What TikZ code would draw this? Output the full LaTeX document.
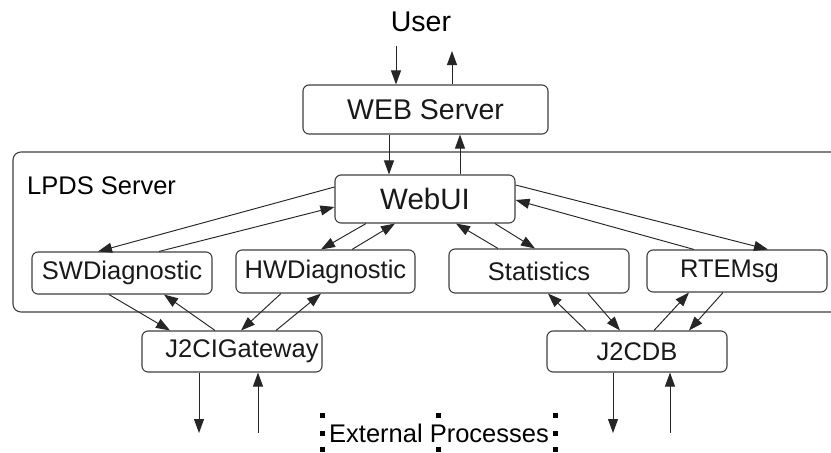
\documentclass[tikz,border=0pt]{standalone}
\usepackage{fontspec}
\setmainfont{Liberation Sans}
\usetikzlibrary{arrows.meta}
\begin{document}
\begin{tikzpicture}[x=1pt,y=-1pt,
  box/.style={draw=black!75,line width=1.1pt,rounded corners=6pt,inner sep=0pt,font=\fontsize{25.5}{30}\selectfont,text=black!90},
  conn/.style={draw=black!85,line width=0.95pt,-{Triangle[length=14pt,width=10pt]}},
  handle/.style={fill=black,draw=none}]
\useasboundingbox[fill=white] (0,0) rectangle (831,453);
% LPDS server frame
\draw[draw=black!75,line width=1.1pt,rounded corners=8pt] (845,312) -- (13,312) -- (13,152) -- (845,152);
\node[anchor=west,inner sep=0pt,font=\fontsize{25.5}{30}\selectfont] (lpds) at (27,186) {LPDS Server};
% nodes
\node[font=\fontsize{28.5}{32}\selectfont,inner sep=0pt] (user) at (421,22) {User};
\node[box,minimum width=245pt,minimum height=49pt,font=\fontsize{28.5}{32}\selectfont] (web) at (425.5,109.5) {WEB Server};
\node[box,minimum width=180pt,minimum height=48pt,font=\fontsize{29.5}{33}\selectfont] (webui) at (425,199) {WebUI};
\node[box,minimum width=180pt,minimum height=42pt] (sw) at (122,273) {SWDiagnostic};
\node[box,minimum width=179pt,minimum height=43pt] (hw) at (325.5,271.5) {HWDiagnostic};
\node[box,minimum width=180pt,minimum height=44pt] (stat) at (539,271) {Statistics};
\node[box,minimum width=180pt,minimum height=42pt] (rte) at (737,271) {RTEMsg\hspace*{15pt}};
\node[box,minimum width=180pt,minimum height=41pt] (j2ci) at (232,351.5) {\hspace*{20pt}J2CIGateway};
\node[box,minimum width=180pt,minimum height=41pt] (j2cdb) at (637,351.5) {J2CDB};
\node[inner sep=0pt,font=\fontsize{25.5}{30}\selectfont] (ext) at (439,433) {External Processes};
% free ends
\coordinate (u1) at (396,46);
\coordinate (u2) at (452,51);
\coordinate (e1) at (199,433);
\coordinate (e2) at (258,433);
\coordinate (e3) at (613,433);
\coordinate (e4) at (670,433);
% connectors
\draw[conn] (u1) -- ([xshift=-29.5pt]web.north);
\draw[conn] ([xshift=26.5pt]web.north) -- (u2);
\draw[conn] ([xshift=-36.5pt]web.south) -- ([xshift=-36pt]webui.north);
\draw[conn] ([xshift=35pt]webui.north) -- ([xshift=34.5pt]web.south);
\draw[conn] ([yshift=12pt]webui.west) -- ([xshift=-24pt]sw.north);
\draw[conn] ([xshift=37pt]sw.north) -- ([yshift=-8pt]webui.west);
\draw[conn] ([xshift=-59pt]webui.south) -- ([xshift=-4.5pt]hw.north);
\draw[conn] ([xshift=26.5pt]hw.north) -- ([xshift=-30pt]webui.south);
\draw[conn] ([xshift=-41pt]stat.north) -- ([xshift=31pt]webui.south);
\draw[conn] ([xshift=70pt]webui.south) -- ([xshift=-4pt]stat.north);
\draw[conn] ([yshift=14pt]webui.east) -- ([xshift=31pt]rte.north);
\draw[conn] ([xshift=-43pt]rte.north) -- ([yshift=-1pt]webui.east);
\draw[conn] ([xshift=-13pt]sw.south) -- ([xshift=-62pt]j2ci.north);
\draw[conn] ([xshift=-17pt]j2ci.north) -- ([xshift=42pt]sw.south);
\draw[conn] ([xshift=-44.5pt]hw.south) -- ([xshift=9pt]j2ci.north);
\draw[conn] ([xshift=44pt]j2ci.north) -- ([xshift=-4.5pt]hw.south);
\draw[conn] ([xshift=-51pt]j2cdb.north) -- ([xshift=9pt]stat.south);
\draw[conn] ([xshift=49pt]stat.south) -- ([xshift=-17pt]j2cdb.north);
\draw[conn] ([xshift=17pt]j2cdb.north) -- ([xshift=-48pt]rte.south);
\draw[conn] ([xshift=-14pt]rte.south) -- ([xshift=52pt]j2cdb.north);
\draw[conn] ([xshift=-33pt]j2ci.south) -- (e1);
\draw[conn] (e2) -- ([xshift=26pt]j2ci.south);
\draw[conn] ([xshift=-24pt]j2cdb.south) -- (e3);
\draw[conn] (e4) -- ([xshift=33pt]j2cdb.south);
% selection handles around the text
\foreach \hx/\hy in {322/415,322/433,322/449,438/415,438/449,555/415,555/433,555/449}
  \fill[handle] (\hx-2.5,\hy-2.5) rectangle (\hx+2.5,\hy+2.5);
\end{tikzpicture}
\end{document}
